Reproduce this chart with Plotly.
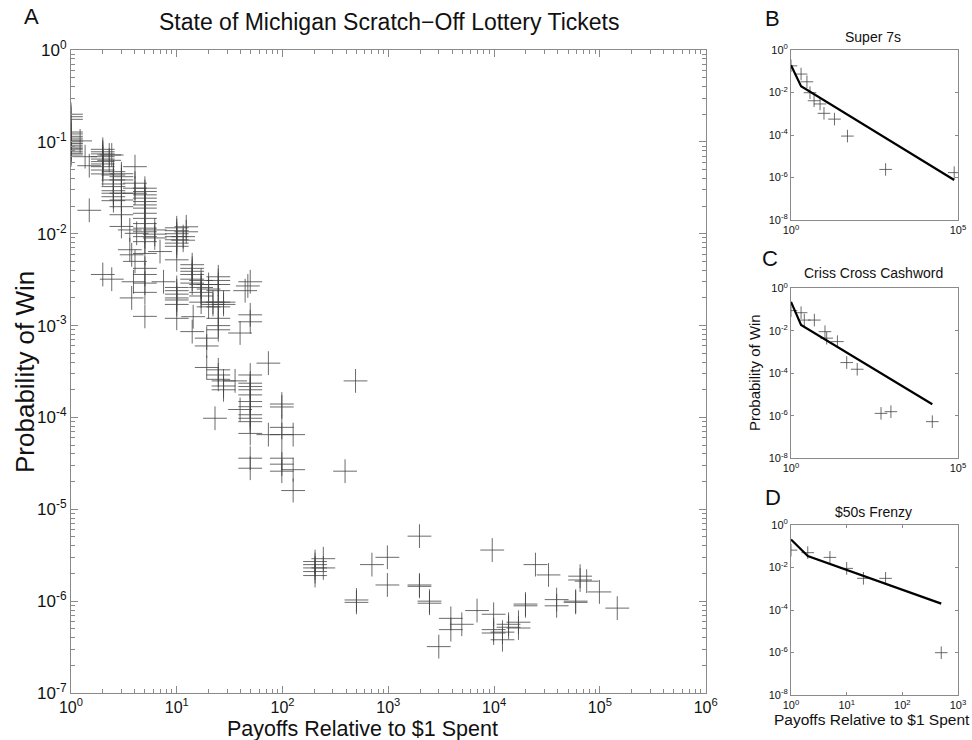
import plotly.graph_objects as go

# ---------------- Panel A data (main scatter) ----------------
MAIN_X = (
    [1]*17 + [1.22, 1.36, 1.49, 1.49]
    + [2]*11 + [2.3, 2.3] + [2.43, 2.43]
    + [2.52]*9 + [3.0]*8 + [3.6, 3.6, 3.75, 3.75, 3.9]
    + [4.03]*5 + [4.18] + [5.0]*20 + [6.2]*3 + [6.95, 7.5]
    + [10]*15 + [11.5, 11.5, 12.3, 12.3] + [14]*7 + [14.3]
    + [17]*6 + [19.2]*3 + [20]*3 + [22, 22] + [23]
    + [24.7]*12 + [27.7]*5 + [35.6, 39.7, 39.7, 44.3, 47]
    + [49.5]*16 + [73.5, 73.5] + [98.5]*7 + [126]*3
    + [390, 490, 500, 500] + [203]*5 + [243, 243, 700, 980, 980]
    + [1970]*3 + [2450, 2450, 3000, 3900, 3900, 4950, 6900, 9600]
    + [9900]*3 + [12000, 12000, 13700, 13700, 17000, 17000, 19800, 19800]
    + [24600, 32700, 39000, 39000, 59000, 59000, 65000, 65000, 75000, 99000, 146000]
)
MAIN_Y = (
    [0.20, 0.188, 0.176, 0.128, 0.122, 0.115, 0.11, 0.105, 0.10, 0.096, 0.092,
     0.088, 0.085, 0.082, 0.078, 0.075, 0.072]
    + [0.1025, 0.069, 0.055, 0.018]
    + [0.083, 0.078, 0.074, 0.069, 0.065, 0.061, 0.0575, 0.0537, 0.0494, 0.0448, 0.0036]
    + [0.072, 0.063] + [0.072, 0.0032]
    + [0.0474, 0.0436, 0.0385, 0.0348, 0.0326, 0.0294, 0.0276, 0.0253, 0.0229]
    + [0.045, 0.0418, 0.0385, 0.0276, 0.0233, 0.0197, 0.0161, 0.012]
    + [0.011, 0.0067, 0.0059, 0.002, 0.003]
    + [0.0537, 0.0355, 0.0313, 0.0276, 0.005] + [0.0101]
    + [0.0313, 0.0288, 0.0265, 0.0244, 0.0224, 0.0206, 0.019, 0.0167, 0.0147, 0.0129,
       0.0115, 0.0105, 0.0093, 0.0082, 0.0061, 0.0042, 0.0036, 0.0029, 0.0023, 0.00126]
    + [0.011, 0.0099, 0.009] + [0.0064, 0.003]
    + [0.0116, 0.0108, 0.01, 0.0093, 0.0086, 0.0079, 0.0073, 0.0052, 0.0026, 0.0024,
       0.0022, 0.002, 0.0019, 0.0017, 0.0012]
    + [0.0093, 0.0085, 0.0119, 0.0105]
    + [0.0046, 0.0042, 0.0039, 0.0036, 0.0032, 0.0029, 0.00086] + [0.00125]
    + [0.0031, 0.0028, 0.0026, 0.0023, 0.0021, 0.0018]
    + [0.00073, 0.0006, 0.00035] + [0.0028, 0.0025, 0.0016] + [0.0018, 0.0017] + [9.8e-5]
    + [0.0034, 0.0031, 0.0028, 0.0024, 0.0018, 0.0016, 0.0012, 0.0010, 0.0009,
       0.00033, 0.00029, 0.00026]
    + [0.00025, 0.00022, 0.0002, 0.0018, 0.0017]
    + [0.00025, 0.00083, 0.000122, 0.0024, 0.0027]
    + [0.003, 0.00131, 0.0011, 0.00029, 0.000236, 0.000217, 0.0002, 0.000176, 0.000149,
       0.000131, 0.000107, 9.8e-5, 9e-5, 6.7e-5, 3.6e-5, 2.8e-5]
    + [0.00039, 6.5e-5] + [0.00014, 0.00013, 7.8e-5, 6.5e-5, 3.6e-5, 3.1e-5, 2.6e-5]
    + [6.5e-5, 2.7e-5, 1.6e-5]
    + [2.6e-5, 0.00025, 1.03e-6, 0.97e-6] + [2.7e-6, 2.5e-6, 2.3e-6, 2.1e-6, 1.9e-6]
    + [2.9e-6, 2.3e-6, 2.5e-6, 3.0e-6, 1.5e-6]
    + [5.1e-6, 1.5e-6, 1.45e-6] + [1.0e-6, 0.95e-6, 3.2e-7, 6.5e-7, 4.9e-7, 5.6e-7, 7.9e-7, 3.6e-6]
    + [7.2e-7, 4.9e-7, 4.5e-7] + [4.6e-7, 3.8e-7, 5.6e-7, 5.2e-7, 5.9e-7, 5.1e-7, 9.3e-7, 8.9e-7]
    + [2.5e-6, 1.93e-6, 1.04e-6, 8.9e-7, 1.0e-6, 0.97e-6, 1.87e-6, 1.7e-6, 1.65e-6, 1.26e-6, 8.4e-7]
)

# ---------------- Panel B: Super 7s ----------------
B_X = [1, 2, 3, 3.7, 4.9, 7.4, 9.7, 20, 49, 680, 77000]
B_Y = [0.18, 0.074, 0.032, 0.0098, 0.0041, 0.0029, 0.00105, 0.00056, 8.9e-5, 2.4e-6, 1.7e-6]
B_FIT_X = [1, 2, 77000]
B_FIT_Y = [0.19, 0.02, 7.6e-7]

# ---------------- Panel C: Criss Cross Cashword ----------------
C_X = [1, 2, 2.5, 5, 10.4, 11.7, 24.5, 46.5, 96, 495, 980, 17000]
C_Y = [0.089, 0.071, 0.032, 0.032, 0.0091, 0.0045, 0.0031, 0.00032, 0.000155, 1.3e-6, 1.56e-6, 5.3e-7]
C_FIT_X = [1, 2, 17000]
C_FIT_Y = [0.23, 0.019, 3.5e-6]

# ---------------- Panel D: $50s Frenzy ----------------
D_X = [1, 2, 5, 10, 20, 50, 500]
D_Y = [0.066, 0.05, 0.030, 0.0091, 0.0031, 0.0031, 9.8e-7]
D_FIT_X = [1, 2, 500]
D_FIT_Y = [0.21, 0.035, 0.0002]

# tick labels
MAIN_XTICKS = [1, 10, 100, 1e3, 1e4, 1e5, 1e6]
MAIN_XTEXT = ["10<sup>0</sup>", "10<sup>1</sup>", "10<sup>2</sup>", "10<sup>3</sup>",
              "10<sup>4</sup>", "10<sup>5</sup>", "10<sup>6</sup>"]
MAIN_YTICKS = [1, 0.1, 0.01, 1e-3, 1e-4, 1e-5, 1e-6, 1e-7]
MAIN_YTEXT = ["10<sup>0</sup>", "10<sup>-1</sup>", "10<sup>-2</sup>", "10<sup>-3</sup>",
              "10<sup>-4</sup>", "10<sup>-5</sup>", "10<sup>-6</sup>", "10<sup>-7</sup>"]
SMALL_YTICKS = [1, 1e-2, 1e-4, 1e-6, 1e-8]
SMALL_YTEXT = ["10<sup>0</sup>", "10<sup>-2</sup>", "10<sup>-4</sup>", "10<sup>-6</sup>", "10<sup>-8</sup>"]
BC_XTICKS = [1, 1e5]
BC_XTEXT = ["10<sup>0</sup>", "10<sup>5</sup>"]
D_XTICKS = [1, 10, 100, 1000]
D_XTEXT = ["10<sup>0</sup>", "10<sup>1</sup>", "10<sup>2</sup>", "10<sup>3</sup>"]

FONT = "Liberation Sans, Arial, Helvetica, sans-serif"
AX = "#8a8a8a"
MK = "rgba(65,65,65,0.78)"

fig = go.Figure()
fig.add_trace(go.Scatter(x=MAIN_X, y=MAIN_Y, mode="markers", xaxis="x", yaxis="y",
                         marker=dict(symbol="cross-thin", size=17, line=dict(width=1, color=MK)),
                         showlegend=False))
for xs, ys, fx, fy, ax_id in [(B_X, B_Y, B_FIT_X, B_FIT_Y, "2"),
                               (C_X, C_Y, C_FIT_X, C_FIT_Y, "3"),
                               (D_X, D_Y, D_FIT_X, D_FIT_Y, "4")]:
    fig.add_trace(go.Scatter(x=xs, y=ys, mode="markers", xaxis="x" + ax_id, yaxis="y" + ax_id,
                             marker=dict(symbol="cross-thin", size=9, line=dict(width=1, color=MK)),
                             showlegend=False))
    fig.add_trace(go.Scatter(x=fx, y=fy, mode="lines", xaxis="x" + ax_id, yaxis="y" + ax_id,
                             line=dict(color="black", width=2.2), showlegend=False))

main_minor_x = [k * 10 ** d for d in range(0, 6) for k in range(2, 10)]
main_minor_y = [k * 10 ** d for d in range(-7, 0) for k in range(2, 10)]

common = dict(type="log", showgrid=False, zeroline=False, showline=True, linecolor=AX,
              linewidth=1, mirror="ticks", ticks="inside", tickcolor=AX, tickmode="array",
              automargin=False)

layout = dict(
    width=972, height=740, paper_bgcolor="white", plot_bgcolor="white",
    margin=dict(l=0, r=0, t=0, b=0, autoexpand=False), font=dict(family=FONT, color="#111"),
    xaxis=dict(common, domain=[0.073, 0.726], range=[0, 6], tickvals=MAIN_XTICKS,
               ticktext=MAIN_XTEXT, ticklen=7, tickfont=dict(size=16),
               minor=dict(ticks="inside", tickvals=main_minor_x, ticklen=4, tickcolor=AX),
               anchor="y"),
    yaxis=dict(common, domain=[0.0635, 0.9324], range=[-7, 0], tickvals=MAIN_YTICKS,
               ticktext=MAIN_YTEXT, ticklen=7, tickfont=dict(size=17),
               minor=dict(ticks="inside", tickvals=main_minor_y, ticklen=4, tickcolor=AX),
               anchor="x"),
)
small_dom = {"2": [0.7027, 0.9324], "3": [0.3807, 0.6104], "4": [0.0608, 0.2905]}
for k, dom in small_dom.items():
    if k == "4":
        xr, xt, xtt = [0, 3], D_XTICKS, D_XTEXT
    else:
        xr, xt, xtt = [0, 5], BC_XTICKS, BC_XTEXT
    layout["xaxis" + k] = dict(common, domain=[0.8138, 0.9856], range=xr, tickvals=xt,
                               ticktext=xtt, ticklen=3, tickfont=dict(size=11), anchor="y" + k)
    layout["yaxis" + k] = dict(common, domain=dom, range=[-8, 0], tickvals=SMALL_YTICKS,
                               ticktext=SMALL_YTEXT, ticklen=3, tickfont=dict(size=11),
                               anchor="x" + k)

def ann(text, x, y, size, angle=0):
    return dict(text=text, x=x, y=y, xref="paper", yref="paper", showarrow=False,
                font=dict(size=size, family=FONT, color="#111"), textangle=angle,
                xanchor="center", yanchor="middle")

layout["annotations"] = [
    ann("A", 31 / 972, 1 - 17 / 740, 22),
    ann("B", 772 / 972, 1 - 19 / 740, 22),
    ann("C", 770 / 972, 1 - 258 / 740, 22),
    ann("D", 773 / 972, 1 - 497 / 740, 22),
    ann("State of Michigan Scratch\u2212Off Lottery Tickets", 389 / 972, 1 - 22 / 740, 23),
    ann("Payoffs Relative to $1 Spent", 362 / 972, 1 - 729 / 740, 21.5),
    ann("Probability of Win", 25 / 972, 1 - 372 / 740, 26, -90),
    ann("Super 7s", 873 / 972, 1 - 37 / 740, 14),
    ann("Criss Cross Cashword", 873 / 972, 1 - 273 / 740, 14),
    ann("$50s Frenzy", 873 / 972, 1 - 512 / 740, 14),
    ann("Probability of Win", 755 / 972, 1 - 373 / 740, 15, -90),
    ann("Payoffs Relative to $1 Spent", 872 / 972, 1 - 719 / 740, 15.5),
]
fig.update_layout(**layout)
fig.write_html("out.html")
